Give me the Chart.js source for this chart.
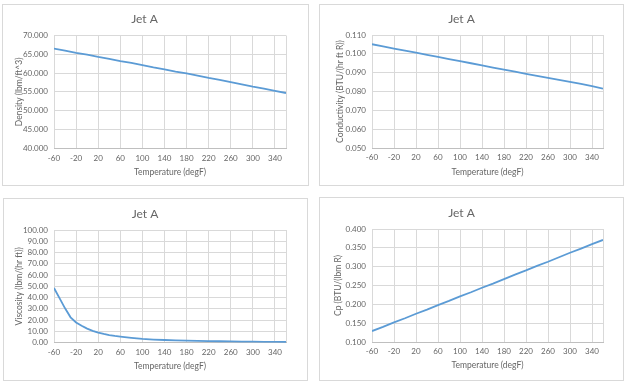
<!DOCTYPE html>
<html>
<head>
<meta charset="utf-8">
<script src="https://cdn.jsdelivr.net/npm/chart.js@4.4.1/dist/chart.umd.min.js"></script>
<style>
  html, body { margin: 0; padding: 0; background: #ffffff; width: 629px; height: 385px; overflow: hidden; }
  .box { position: absolute; border: 1px solid #d9d9d9; background: #ffffff; }
  .box canvas { display: block; }
</style>
</head>
<body>
<div class="box" id="b1" style="left:2px;top:4px;width:305px;height:180px;"><canvas id="c1" width="305" height="180"></canvas></div>
<div class="box" id="b2" style="left:319px;top:4px;width:303px;height:180px;"><canvas id="c2" width="303" height="180"></canvas></div>
<div class="box" id="b3" style="left:3px;top:198px;width:303px;height:181px;"><canvas id="c3" width="303" height="181"></canvas></div>
<div class="box" id="b4" style="left:319px;top:197px;width:303px;height:182px;"><canvas id="c4" width="303" height="182"></canvas></div>
<script>
// ---- data ----
const chartTitle = "Jet A";
const xAxisTitle = "Temperature (degF)";
const xTickLabels = [-60, -20, 20, 60, 100, 140, 180, 220, 260, 300, 340];
const xMin = -60;
const xMax = 360;

const tempsF = [-60, -40, -20, 0, 20, 40, 60, 80, 100, 120, 140, 160, 180, 200, 220, 240, 260, 280, 300, 320, 340, 360];
const density = [66.5, 66.0, 65.4, 64.9, 64.3, 63.8, 63.2, 62.7, 62.1, 61.5, 61.0, 60.4, 59.9, 59.3, 58.7, 58.2, 57.6, 57.0, 56.4, 55.9, 55.3, 54.7];
const conductivity = [0.1051, 0.1040, 0.1028, 0.1017, 0.1006, 0.0995, 0.0984, 0.0972, 0.0961, 0.0950, 0.0939, 0.0927, 0.0916, 0.0905, 0.0894, 0.0883, 0.0872, 0.0862, 0.0851, 0.0840, 0.0828, 0.0815];
const cp = [0.129, 0.140, 0.152, 0.163, 0.175, 0.186, 0.198, 0.209, 0.221, 0.232, 0.244, 0.255, 0.267, 0.279, 0.290, 0.302, 0.313, 0.325, 0.337, 0.348, 0.360, 0.371];

const viscTempsF = [-60, -50, -40, -30, -20, -10, 0, 10, 20, 30, 40, 50, 60, 80, 100, 120, 140, 160, 180, 200, 220, 240, 260, 280, 300, 320, 340, 360];
const viscosity = [48.5, 39.5, 30.5, 22.5, 18.0, 15.0, 12.5, 10.5, 9.0, 7.8, 6.8, 6.0, 5.4, 4.3, 3.4, 2.8, 2.4, 2.1, 1.8, 1.6, 1.4, 1.3, 1.1, 1.0, 0.9, 0.8, 0.7, 0.6];

const densityTitle = "Density (lbm/ft^3)";
const conductivityTitle = "Conductivity (BTU/(hr ft R))";
const viscosityTitle = "Viscosity (lbm/(hr ft))";
const cpTitle = "Cp (BTU/(lbm R)";

// ---- rendering ----
const FONT = "Lato, 'Open Sans', sans-serif";
const TEXT = "#666666";
const GRID = "#d9d9d9";
const LINE = "#5b9bd5";

function pts(xs, ys) { return xs.map((x, i) => ({ x: x, y: ys[i] })); }

function makeChart(id, xs, ys, opt) {
  const canvas = document.getElementById(id);
  const W = canvas.width, H = canvas.height;
  new Chart(canvas, {
    type: 'scatter',
    data: { datasets: [{ data: pts(xs, ys), showLine: true, borderColor: LINE, backgroundColor: LINE, borderWidth: 1.8, pointRadius: 0, tension: 0, fill: false }] },
    options: {
      responsive: false, animation: false, devicePixelRatio: 1,
      layout: { padding: { left: 0, right: W - opt.plotRight, top: 0, bottom: 0 } },
      plugins: {
        legend: { display: false }, tooltip: { enabled: false },
        title: { display: true, text: chartTitle, color: TEXT, font: { family: FONT, size: 12, weight: 'normal' },
                 padding: { top: opt.titleY - 7.2, bottom: opt.plotTop - (opt.titleY + 7.2) } }
      },
      scales: {
        x: {
          type: 'linear', min: xMin, max: xMax,
          afterBuildTicks: (s) => { s.ticks = xTickLabels.concat([xMax]).map(v => ({ value: v })); },
          afterFit: (s) => { s.height = H - opt.plotBottom; },
          ticks: { autoSkip: false, maxRotation: 0, minRotation: 0, padding: 5, color: TEXT, font: { family: FONT, size: 8 },
                   callback: (v) => xTickLabels.includes(v) ? String(v) : '' },
          grid: { color: GRID, lineWidth: 1, drawTicks: false },
          border: { display: true, color: '#bfbfbf', width: 1 },
          title: { display: true, text: xAxisTitle, color: TEXT, font: { family: FONT, size: 8.5 }, padding: { top: 0, bottom: opt.xTitlePad } }
        },
        y: {
          type: 'linear', min: opt.yMin, max: opt.yMax,
          afterBuildTicks: (s) => { const t = []; for (let i = 0; i <= opt.yCount; i++) t.push({ value: opt.yMin + (opt.yMax - opt.yMin) * i / opt.yCount }); s.ticks = t; },
          afterFit: (s) => { s.width = opt.plotLeft; },
          ticks: { autoSkip: false, padding: 6, color: TEXT, font: { family: FONT, size: 8 }, callback: (v) => Number(v).toFixed(opt.dec) },
          grid: { color: GRID, lineWidth: 1, drawTicks: false },
          border: { display: false },
          title: { display: true, text: opt.yTitle, color: TEXT, font: { family: FONT, size: 8.5 }, padding: { top: opt.yTitlePad, bottom: 0 } }
        }
      }
    }
  });
}

makeChart('c1', tempsF, density, { yMin: 40, yMax: 70, yCount: 6, dec: 3, yTitle: densityTitle,
  plotLeft: 51, plotRight: 283, plotTop: 30.5, plotBottom: 143.3, titleY: 14, xTitlePad: 8, yTitlePad: 11 });
makeChart('c2', tempsF, conductivity, { yMin: 0.05, yMax: 0.11, yCount: 6, dec: 3, yTitle: conductivityTitle,
  plotLeft: 52, plotRight: 283, plotTop: 30, plotBottom: 143, titleY: 14, xTitlePad: 8, yTitlePad: 15 });
makeChart('c3', viscTempsF, viscosity, { yMin: 0, yMax: 100, yCount: 10, dec: 2, yTitle: viscosityTitle,
  plotLeft: 50, plotRight: 282, plotTop: 31, plotBottom: 143.7, titleY: 15, xTitlePad: 9, yTitlePad: 10 });
makeChart('c4', tempsF, cp, { yMin: 0.1, yMax: 0.4, yCount: 6, dec: 3, yTitle: cpTitle,
  plotLeft: 52, plotRight: 283, plotTop: 31, plotBottom: 144, titleY: 15, xTitlePad: 10, yTitlePad: 13 });
</script>
</body>
</html>
